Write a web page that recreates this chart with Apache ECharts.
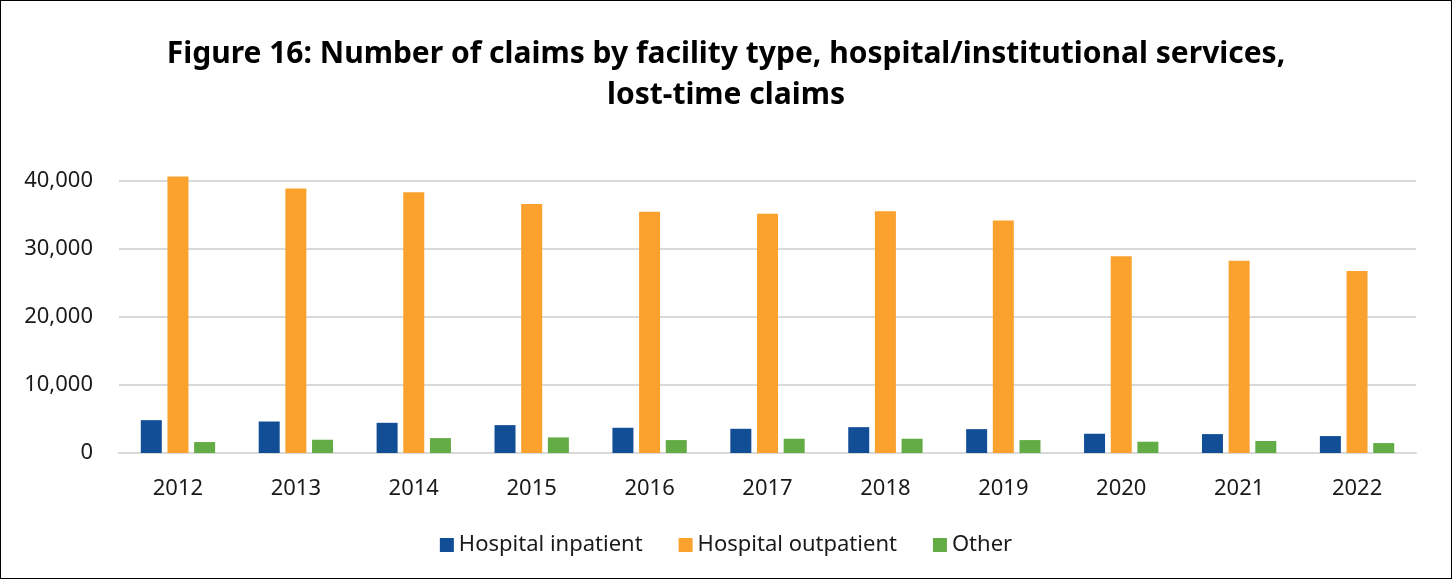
<!DOCTYPE html>
<html>
<head>
<meta charset="utf-8">
<script src="https://cdn.jsdelivr.net/npm/echarts@6/dist/echarts.min.js"></script>
<style>
  html, body { margin: 0; padding: 0; background: #fff; }
  #main { width: 1452px; height: 579px; box-sizing: border-box; border: 1px solid #000; }
</style>
</head>
<body>
<div id="main"></div>
<script>
// data
const years = ['2012', '2013', '2014', '2015', '2016', '2017', '2018', '2019', '2020', '2021', '2022']
const inpatient = [4830, 4630, 4440, 4100, 3710, 3560, 3800, 3510, 2830, 2780, 2490]
const outpatient = [40680, 38880, 38340, 36630, 35460, 35170, 35560, 34200, 28930, 28290, 26780]
const other = [1610, 1950, 2190, 2290, 1900, 2100, 2100, 1900, 1660, 1760, 1460]
const seriesNames = ['Hospital inpatient', 'Hospital outpatient', 'Other']

const font = '"Noto Sans", "Open Sans", sans-serif'
const myChart = echarts.init(document.getElementById('main'))

const titleStyle = { fontFamily: font, fontSize: 30, fontWeight: 'bold', color: '#000' }

const option = {
  animation: false,
  color: ['#124E96', '#FAA22D', '#63AB45'],
  // title is two separate lines
  title: [
    {
      text: 'Figure 16: Number of claims by facility type, hospital/institutional services,',
      left: 'center',
      top: 33,
      textStyle: titleStyle
    },
    {
      text: 'lost-time claims',
      left: 'center',
      top: 74,
      textStyle: titleStyle
    }
  ],
  legend: {
    data: seriesNames,
    bottom: 17,
    left: 'center',
    itemWidth: 14,
    itemHeight: 14,
    itemGap: 36,
    icon: 'rect',
    textStyle: { fontFamily: font, fontSize: 22, color: '#1a1a1a' }
  },
  grid: { left: 118, right: 35, top: 180, bottom: 125 },
  xAxis: {
    type: 'category',
    data: years,
    axisTick: { show: false },
    axisLine: { lineStyle: { color: '#D9D9D9', width: 2 } },
    axisLabel: { fontFamily: font, fontSize: 22, color: '#1a1a1a', margin: 25 }
  },
  yAxis: {
    type: 'value',
    min: 0,
    max: 40000,
    interval: 10000,
    axisLine: { show: false },
    axisTick: { show: false },
    splitLine: { lineStyle: { color: '#D9D9D9', width: 2 } },
    axisLabel: {
      fontFamily: font, fontSize: 22, color: '#1a1a1a', margin: 26,
      formatter: v => v.toLocaleString('en-US')
    }
  },
  series: [
    { name: seriesNames[0], type: 'bar', data: inpatient, barWidth: 21, barGap: '27%', clip: false },
    { name: seriesNames[1], type: 'bar', data: outpatient, barWidth: 21, barGap: '27%', clip: false },
    { name: seriesNames[2], type: 'bar', data: other, barWidth: 21, barGap: '27%', clip: false }
  ]
}
myChart.setOption(option)
</script>
</body>
</html>
